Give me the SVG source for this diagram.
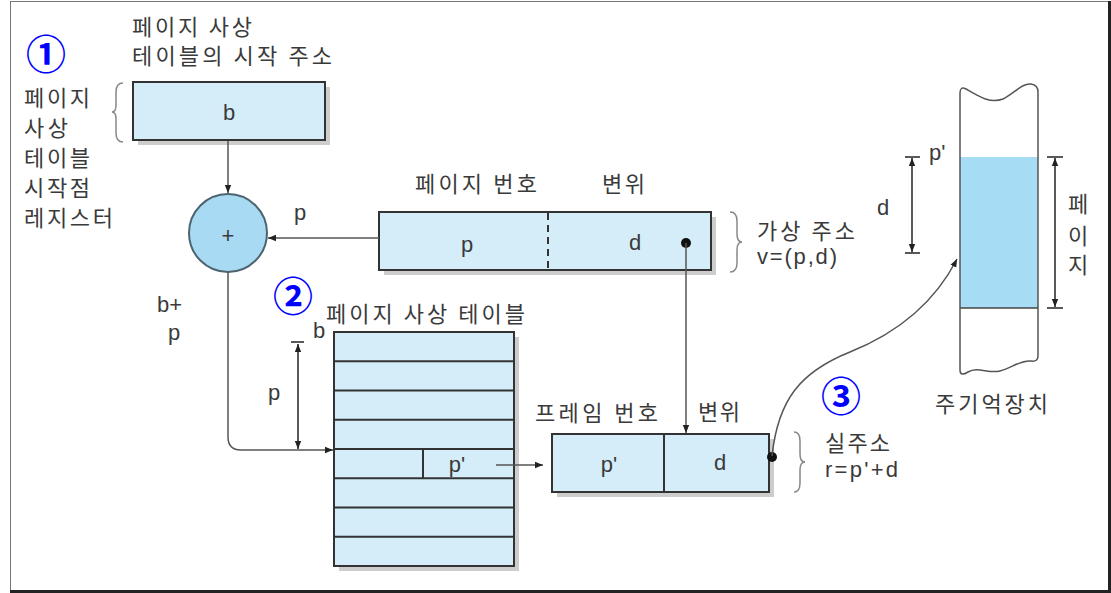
<svg xmlns="http://www.w3.org/2000/svg" width="1111" height="593" viewBox="0 0 1111 593">
<style>
.kr{font-family:"Noto Sans CJK KR","Noto Sans",sans-serif;font-size:22px;fill:#3a3a3a}
.lt{font-family:"Liberation Sans","DejaVu Sans",sans-serif;font-size:22px;fill:#3a3a3a}
.box{fill:#d5edf9;stroke:#333;stroke-width:2}
.shadow{fill:#cdcdcd}
.conn{fill:none;stroke:#555;stroke-width:1.5}
.dim{fill:none;stroke:#222;stroke-width:1.5}
.brace{fill:none;stroke:#888;stroke-width:1.5}
.num{font-family:"Noto Sans CJK KR",sans-serif;font-weight:bold;font-size:40px;fill:#0000ff}
</style>
<defs>
<marker id="ah" viewBox="0 0 10 10" refX="10" refY="5" markerWidth="8" markerHeight="8" orient="auto-start-reverse" markerUnits="userSpaceOnUse"><path d="M0,1 L10,5 L0,9 z" fill="#222"/></marker>
</defs>
<rect x="0" y="0" width="1111" height="593" fill="#fff"/>
<g id="frame">
<rect x="10.5" y="1.5" width="1098" height="589" fill="none" stroke="#777" stroke-width="1"/>
<line x1="1109.5" y1="1" x2="1109.5" y2="593" stroke="#222" stroke-width="3"/>
<line x1="10" y1="591.5" x2="1111" y2="591.5" stroke="#222" stroke-width="3"/>
</g>

<g id="labels-top">
<text class="kr" x="132" y="35" textLength="120">페이지 사상</text>
<text class="kr" x="132" y="64" textLength="200">테이블의 시작 주소</text>
</g>
<g id="n1"><text class="num" x="46" y="69" text-anchor="middle">①</text></g>
<g id="reg-label">
<text class="kr" x="24" y="106" textLength="66">페이지</text>
<text class="kr" x="24" y="136" textLength="44">사상</text>
<text class="kr" x="24" y="166" textLength="66">테이블</text>
<text class="kr" x="24" y="196" textLength="66">시작점</text>
<text class="kr" x="24" y="226" textLength="89">레지스터</text>
<path class="brace" d="M123,83 Q116,83 116,92 V105 Q116,112 112,112 Q116,112 116,119 V133 Q116,142 123,142"/>
</g>

<g id="b-box">
<rect class="shadow" x="138" y="87" width="192" height="58"/>
<rect class="box" x="133" y="82" width="192" height="58"/>
<text class="lt" x="229" y="120" text-anchor="middle">b</text>
</g>

<g id="adder">
<circle cx="228" cy="233" r="39" fill="#a9daf3" stroke="#4d6470" stroke-width="2"/>
<text class="lt" x="228" y="243" text-anchor="middle" font-size="24">+</text>
</g>

<g id="virtual-address">
<text class="kr" x="415" y="192" textLength="122">페이지 번호</text>
<text class="kr" x="602" y="192" textLength="43">변위</text>
<rect class="shadow" x="384" y="217" width="332" height="58"/>
<rect class="box" x="379" y="212" width="332" height="58"/>
<line x1="548" y1="213" x2="548" y2="269" stroke="#333" stroke-width="2" stroke-dasharray="7,5"/>
<text class="lt" x="467" y="252" text-anchor="middle">p</text>
<text class="lt" x="635" y="250" text-anchor="middle">d</text>
<circle cx="686" cy="243" r="5" fill="#111"/>
<path class="brace" d="M730,212 Q737,212 737,221 V234 Q737,242 742,242 Q737,242 737,250 V263 Q737,272 730,272"/>
<text class="kr" x="757" y="239" font-size="21" textLength="98">가상 주소</text>
<text class="lt" x="757" y="264" font-size="21" textLength="80">v=(p,d)</text>
</g>

<g id="n2"><text class="num" x="293" y="311" text-anchor="middle">②</text></g>

<g id="page-table">
<text class="kr" x="326" y="322" textLength="199">페이지 사상 테이블</text>
<rect class="shadow" x="339" y="337" width="180" height="234"/>
<rect class="box" x="334" y="332" width="180" height="234"/>
<g stroke="#333" stroke-width="2">
<line x1="334" y1="361.25" x2="514" y2="361.25"/>
<line x1="334" y1="390.5" x2="514" y2="390.5"/>
<line x1="334" y1="419.75" x2="514" y2="419.75"/>
<line x1="334" y1="449" x2="514" y2="449"/>
<line x1="334" y1="478.25" x2="514" y2="478.25"/>
<line x1="334" y1="507.5" x2="514" y2="507.5"/>
<line x1="334" y1="536.75" x2="514" y2="536.75"/>
<line x1="423" y1="449" x2="423" y2="478.25"/>
</g>
<text class="lt" x="457" y="472" text-anchor="middle">p'</text>
<text class="lt" x="313" y="338" font-size="21">b</text>
<text class="lt" x="268" y="400">p</text>
</g>

<g id="b-plus-p">
<text class="lt" x="157" y="312">b+</text>
<text class="lt" x="168" y="340">p</text>
</g>

<g id="physical-address">
<text class="kr" x="535" y="421" textLength="123">프레임 번호</text>
<text class="kr" x="698" y="420" textLength="42">변위</text>
<rect class="shadow" x="557" y="439" width="217" height="58"/>
<rect class="box" x="552" y="434" width="217" height="58"/>
<line x1="664" y1="434" x2="664" y2="492" stroke="#333" stroke-width="2"/>
<text class="lt" x="609" y="472" text-anchor="middle">p'</text>
<text class="lt" x="720" y="470" text-anchor="middle">d</text>
<circle cx="772" cy="457" r="5" fill="#111"/>
<path class="brace" d="M794,432 Q800,432 800,441 V454 Q800,462 805,462 Q800,462 800,470 V483 Q800,492 794,492"/>
<text class="kr" x="825" y="451" textLength="65">실주소</text>
<text class="lt" x="825" y="477" textLength="73">r=p'+d</text>
</g>

<g id="n3"><text class="num" x="841" y="411" text-anchor="middle">③</text></g>

<g id="memory">
<rect x="960" y="157" width="78" height="151" fill="#a7dcf5"/>
<line x1="960" y1="308" x2="1038" y2="308" stroke="#444" stroke-width="1.5"/>
<path d="M960,370 V93 Q960,86 966,89 C978,96 990,104 1003,99 C1015,93 1022,83 1031,84 Q1038,85 1038,92 V356 Q1038,362 1031,361 C1020,360 1012,368 1000,371 C988,374 978,366 968,372 Q960,377 960,370 Z" fill="none" stroke="#555" stroke-width="1.5"/>
<text class="lt" x="929" y="160">p'</text>
<text class="lt" x="877" y="215">d</text>
<text class="kr" x="1078" y="212" text-anchor="middle">페</text>
<text class="kr" x="1078" y="244" text-anchor="middle">이</text>
<text class="kr" x="1078" y="273" text-anchor="middle">지</text>
<text class="kr" x="935" y="412" textLength="113">주기억장치</text>
</g>

<g id="connectors">
<line class="conn" x1="228" y1="141" x2="228" y2="193" marker-end="url(#ah)"/>
<line class="conn" x1="379" y1="238" x2="268" y2="238" marker-end="url(#ah)"/>
<text class="lt" x="294" y="220">p</text>
<path class="conn" d="M228,272 V437 Q228,450 241,450 H333" marker-end="url(#ah)"/>
<line class="conn" x1="686" y1="243" x2="686" y2="433" marker-end="url(#ah)"/>
<line class="conn" x1="496" y1="465" x2="543" y2="465" marker-end="url(#ah)"/>
<path class="conn" d="M772,456 C778,400 800,372 850,352 C900,332 935,302 957,259" marker-end="url(#ah)"/>
<line class="dim" x1="291" y1="342" x2="304" y2="342"/>
<line class="dim" x1="298" y1="344" x2="298" y2="449" marker-start="url(#ah)" marker-end="url(#ah)"/>
<line class="dim" x1="905" y1="157" x2="920" y2="157"/>
<line class="dim" x1="905" y1="253" x2="920" y2="253"/>
<line class="dim" x1="912" y1="158" x2="912" y2="252" marker-start="url(#ah)" marker-end="url(#ah)"/>
<line class="dim" x1="1047" y1="157" x2="1063" y2="157"/>
<line class="dim" x1="1047" y1="308" x2="1063" y2="308"/>
<line class="dim" x1="1055" y1="158" x2="1055" y2="307" marker-start="url(#ah)" marker-end="url(#ah)"/>
</g>
</svg>
